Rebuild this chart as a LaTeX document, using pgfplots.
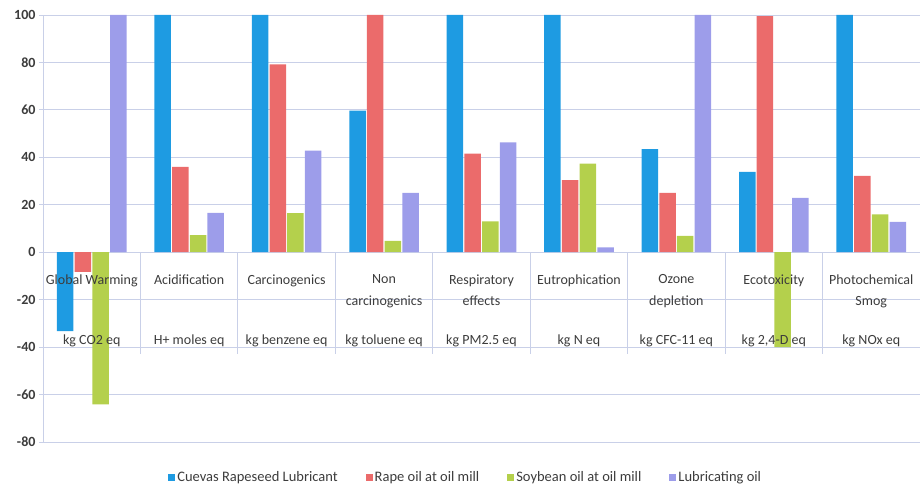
\documentclass[border=0pt]{standalone}
\usepackage{pgfplots}
\pgfplotsset{compat=1.18}
\usepackage{pgfplotstable}
\usepackage{fontspec}
\setmainfont{Carlito}

\definecolor{cuevas}{HTML}{1E9BE2}
\definecolor{rapeoil}{HTML}{EB6B6B}
\definecolor{soyoil}{HTML}{B4D04C}
\definecolor{lubeoil}{HTML}{9D9DEA}
\definecolor{gridc}{HTML}{C9D0E8}
\definecolor{txt}{HTML}{3C3C3C}

% Normalised impact scores (%) per impact category
\pgfplotstableread{
x  cuevas  rape   soy    lube
0  -33.3   -8.3   -64.1  100
1  100     36.0   7.2    16.6
2  100     79.2   16.5   42.8
3  59.7    100    4.8    25.0
4  100     41.6   13.0   46.3
5  100     30.4   37.3   2.0
6  43.5    25.0   6.9    100
7  33.9    99.5   -40.0  22.9
8  100     32.2   16.0   12.8
}\impacts

\begin{document}
\begin{tikzpicture}[x=1pt,y=1pt]
\path[use as bounding box] (0,0) rectangle (921,485);
\begin{axis}[
  at={(43pt,43pt)}, anchor=south west,
  scale only axis, width=877pt, height=427pt,
  xmin=-0.5, xmax=8.5, ymin=-80, ymax=100,
  ytick={-80,-60,...,100},
  xtick=\empty,
  axis x line=none, axis y line*=left,
  axis line style={gridc, line width=0.8pt, -},
  ymajorgrids, grid style={gridc, line width=0.8pt},
  y tick style={gridc, line width=0.8pt},
  major tick length=4pt, tick align=outside,
  yticklabel style={font=\fontsize{14}{16}\selectfont\bfseries, text=txt},
  /pgf/number format/assume math mode=true,
  ybar=1.2pt, bar width=16.5pt,
  clip=false,
  legend columns=4,
  legend style={at={(axis description cs:0.482,-0.082)}, anchor=center,
    draw=none, fill=none, font=\fontsize{14.5}{16}\selectfont, text=txt,
    /tikz/every even column/.append style={column sep=26pt}},
  legend image code/.code={\fill[#1] (0pt,-3.5pt) rectangle (7pt,3.5pt);},
]
% separators between the impact categories
\pgfplotsinvokeforeach{0.5,1.5,...,7.5}{
  \draw[gridc, line width=0.8pt] (axis cs:#1,0) -- (axis cs:#1,-43);
}
\addplot[fill=cuevas, draw=none] table[x=x, y=cuevas] {\impacts};
\addplot[fill=rapeoil, draw=none] table[x=x, y=rape] {\impacts};
\addplot[fill=soyoil, draw=none] table[x=x, y=soy] {\impacts};
\addplot[fill=lubeoil, draw=none] table[x=x, y=lube] {\impacts};
\legend{Cuevas Rapeseed Lubricant, Rape oil at oil mill, Soybean oil at oil mill, Lubricating oil}

% category names and units
\begin{scope}[every node/.style={font=\fontsize{14}{21.5}\selectfont, text=txt, align=center, anchor=north}]
\node at (axis cs:0,-8) {Global Warming};
\node at (axis cs:1,-8) {Acidification};
\node at (axis cs:2,-8) {Carcinogenics};
\node at (axis cs:3,-8) {Non\\carcinogenics};
\node at (axis cs:4,-8) {Respiratory\\effects};
\node at (axis cs:5,-8) {Eutrophication};
\node at (axis cs:6,-8) {Ozone\\depletion};
\node at (axis cs:7,-8) {Ecotoxicity};
\node at (axis cs:8,-8) {Photochemical\\Smog};
\node at (axis cs:0,-33.4) {kg CO2 eq};
\node at (axis cs:1,-33.4) {H+ moles eq};
\node at (axis cs:2,-33.4) {kg benzene eq};
\node at (axis cs:3,-33.4) {kg toluene eq};
\node at (axis cs:4,-33.4) {kg PM2.5 eq};
\node at (axis cs:5,-33.4) {kg N eq};
\node at (axis cs:6,-33.4) {kg CFC-11 eq};
\node at (axis cs:7,-33.4) {kg 2,4-D eq};
\node at (axis cs:8,-33.4) {kg NOx eq};
\end{scope}
\end{axis}
\end{tikzpicture}
\end{document}
